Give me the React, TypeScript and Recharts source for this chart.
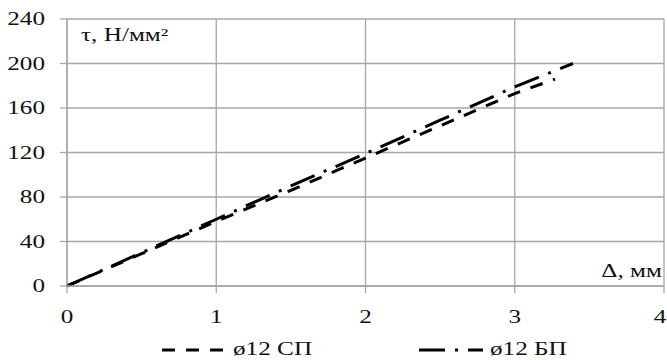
import React from 'react';
import {
  LineChart,
  Line,
  XAxis,
  YAxis,
  CartesianGrid,
  Legend,
} from 'recharts';

// Shear stress vs slip
const spX = [0, 0.5, 1, 1.5, 2, 2.5, 3, 3.27];
const spY = [0, 29, 58, 86, 115, 144, 173, 186];
const bpX = [0, 0.5, 1, 1.5, 2, 2.5, 3, 3.39];
const bpY = [0, 30, 60, 90, 119, 149, 179, 200];

const xTicks = [0, 1, 2, 3, 4];
const yTicks = [0, 40, 80, 120, 160, 200, 240];

const SP_NAME = 'ø12 СП';
const BP_NAME = 'ø12 БП';

const spData = spX.map((x, i) => ({ x, y: spY[i] }));
const bpData = bpX.map((x, i) => ({ x, y: bpY[i] }));

const FONT = '"Liberation Serif", "Times New Roman", serif';
const FS = 18;
const STRETCH = 1.4; // text in the picture is drawn wide
const GRID = '#a6a6a6';
const SP_DASH = '13 11';
const BP_DASH = '26 10 3 10';

// last label sits right at the edge, keep it inside the page
const XTick = ({ x, y, payload }: any) => (
  <g transform={`translate(${Math.min(x, 660)} ${y}) scale(${STRETCH} 1)`}>
    <text x={0} y={0} dy="0.71em" textAnchor="middle" fontFamily={FONT} fontSize={FS} fill="#111">
      {payload.value}
    </text>
  </g>
);

const YTick = ({ x, y, payload }: any) => (
  <g transform={`translate(${x} ${y}) scale(${STRETCH} 1)`}>
    <text x={0} y={0} dy="0.355em" textAnchor="end" fontFamily={FONT} fontSize={FS} fill="#111">
      {payload.value}
    </text>
  </g>
);

const TauLabel = ({ viewBox }: any) => {
  const x = viewBox.x + viewBox.width + 14;
  const y = viewBox.y + 22;
  return (
    <g transform={`translate(${x} ${y}) scale(${STRETCH} 1)`}>
      <text x={0} y={0} fontFamily={FONT} fontSize={FS} fill="#111">
        τ, Н/мм²
      </text>
    </g>
  );
};

const DeltaLabel = ({ viewBox }: any) => {
  const x = viewBox.x + viewBox.width - 2;
  const y = viewBox.y - 9;
  return (
    <g transform={`translate(${x} ${y}) scale(${STRETCH} 1)`}>
      <text x={0} y={0} textAnchor="end" fontFamily={FONT} fontSize={FS} fill="#111">
        Δ, мм
      </text>
    </g>
  );
};

const legendItems = [
  { name: SP_NAME, dash: SP_DASH, left: 162 },
  { name: BP_NAME, dash: BP_DASH, left: 419 },
];

const renderLegend = () => (
  <div style={{ position: 'relative', width: 667, height: 30 }}>
    {legendItems.map((item) => (
      <div key={item.name} style={{ position: 'absolute', left: item.left, top: 0, height: 30 }}>
        <svg width={64} height={30} style={{ position: 'absolute', left: 0, top: 0 }}>
          <line x1={0} y1={20} x2={64} y2={20} stroke="#000" strokeWidth={3} strokeDasharray={item.dash} />
        </svg>
        <span
          style={{
            position: 'absolute',
            left: 71,
            top: 9,
            fontFamily: FONT,
            fontSize: FS,
            lineHeight: '20px',
            color: '#111',
            whiteSpace: 'nowrap',
            display: 'inline-block',
            transform: `scaleX(${STRETCH})`,
            transformOrigin: 'left center',
          }}
        >
          {item.name}
        </span>
      </div>
    ))}
  </div>
);

export default function App() {
  return (
    <div style={{ position: 'absolute', left: 0, top: 0, width: 667, height: 360, background: '#fff' }}>
      <LineChart width={667} height={360} margin={{ top: 19, right: 3, left: 0, bottom: 0 }}>
        <CartesianGrid stroke={GRID} strokeWidth={1.3} />
        <XAxis
          dataKey="x"
          type="number"
          domain={[0, 4]}
          ticks={xTicks}
          height={44}
          tickSize={7}
          tickMargin={17}
          tick={<XTick />}
          axisLine={{ stroke: GRID, strokeWidth: 1.3 }}
          tickLine={{ stroke: GRID, strokeWidth: 1.3 }}
          label={{ content: (p: any) => <DeltaLabel {...p} /> }}
          allowDuplicatedCategory={false}
        />
        <YAxis
          type="number"
          domain={[0, 240]}
          ticks={yTicks}
          width={67}
          tickSize={7}
          tickMargin={15}
          tick={<YTick />}
          axisLine={{ stroke: GRID, strokeWidth: 1.3 }}
          tickLine={{ stroke: GRID, strokeWidth: 1.3 }}
          label={{ content: (p: any) => <TauLabel {...p} /> }}
        />
        <Legend
          verticalAlign="bottom"
          height={30}
          content={renderLegend}
          wrapperStyle={{ left: 0, width: 667 }}
        />
        <Line
          data={spData}
          dataKey="y"
          name={SP_NAME}
          stroke="#000"
          strokeWidth={3}
          strokeDasharray={SP_DASH}
          dot={false}
          isAnimationActive={false}
        />
        <Line
          data={bpData}
          dataKey="y"
          name={BP_NAME}
          stroke="#000"
          strokeWidth={3}
          strokeDasharray={BP_DASH}
          dot={false}
          isAnimationActive={false}
        />
      </LineChart>
    </div>
  );
}
